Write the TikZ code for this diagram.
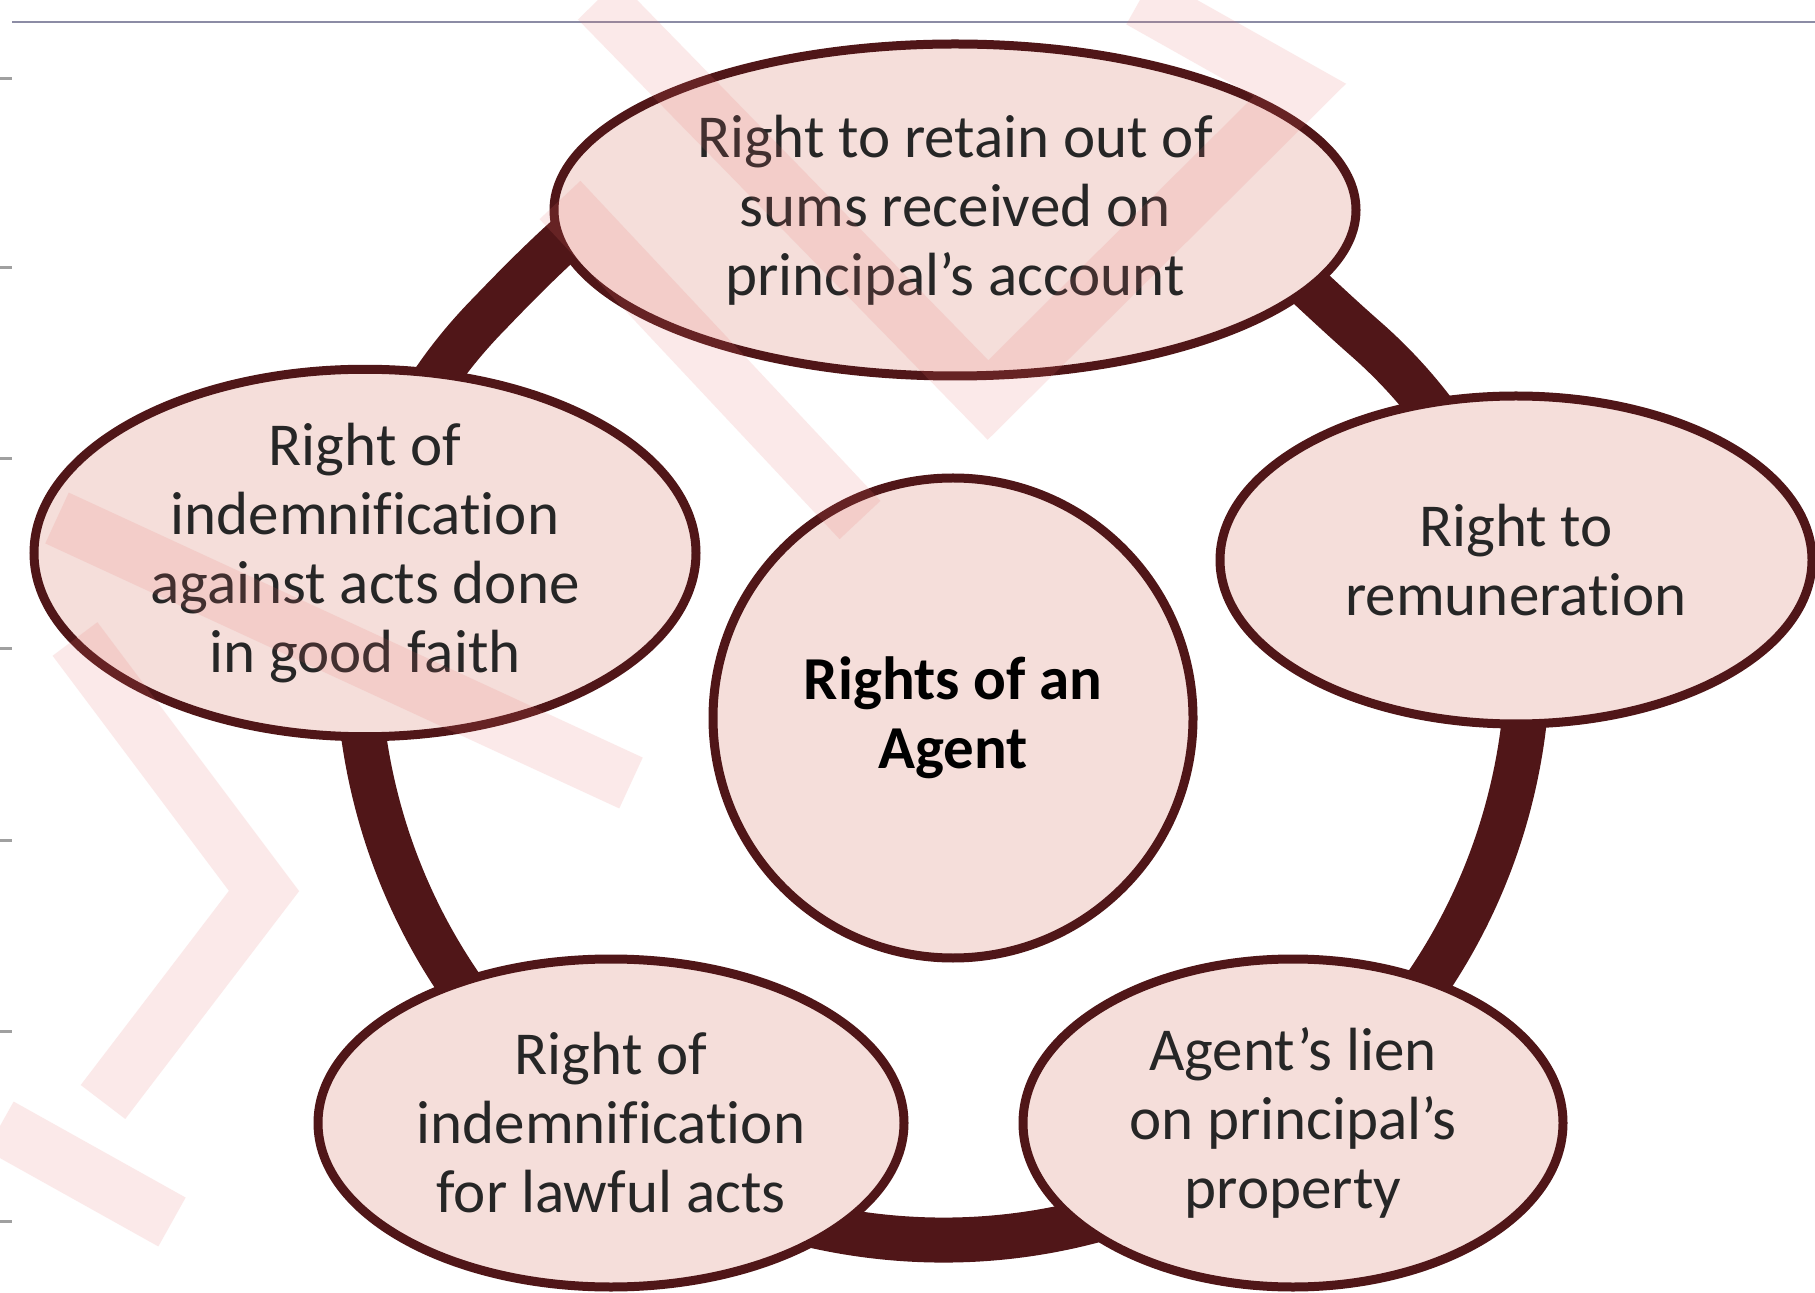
\documentclass[tikz,border=0pt]{standalone}
\usepackage{fontspec}
\setmainfont{Carlito}[Ligatures={NoCommon}]
\usetikzlibrary{shapes.geometric}
\definecolor{ringc}{RGB}{80,22,24}
\definecolor{fillc}{RGB}{245,222,218}
\definecolor{txtc}{RGB}{38,38,38}
\definecolor{wmc}{RGB}{232,110,110}
\definecolor{topl}{RGB}{140,140,165}
\definecolor{tickc}{RGB}{160,160,160}
\begin{document}
\begin{tikzpicture}[x=0.5pt,y=-0.5pt,
  bub/.style={ellipse, draw=ringc, line width=4.5pt, fill=fillc, inner sep=0pt,
    align=center, text=txtc, font=\fontsize{30.5}{34.5}\selectfont},
  hub/.style={bub, circle, text=black, font=\bfseries\fontsize{30.5}{34.5}\selectfont},
  ringline/.style={draw=ringc, line width=22.5pt, line join=round},
  wm/.style={draw=wmc, line width=28pt, opacity=0.15, line join=miter},
  tickmark/.style={draw=tickc, line width=1.5pt},
  topline/.style={draw=topl, line width=1.2pt}]
\useasboundingbox (0,0) rectangle (1815,1293);
\fill[white] (0,0) rectangle (1815,1293);
% frame marks
\draw[topline] (12,22) -- (1815,22);
\foreach \yy in {79,268,459,649,840,1031,1221}
  \draw[tickmark] (0,\yy) -- (12,\yy);
% ring
\draw[ringline] (1522.7,733.4) arc[start angle=7.7, end angle=170.7, radius=585]
  .. controls (340,592) and (365,440) .. (490,313)
  .. controls (628,169) and (716,105) .. (946,105)
  .. controls (1146,105) and (1239,228) .. (1367,340)
  .. controls (1479,439) and (1543,584) .. (1522.7,733.4) -- cycle;
% nodes
\node[bub, minimum width=401pt, minimum height=166pt] (top) at (955,210)
  {Right to retain out of\\sums received on\\principal's account};
\node[bub, minimum width=331pt, minimum height=165pt] (left) at (365,553)
  {Right of\\indemnification\\against acts done\\in good faith};
\node[bub, minimum width=296pt, minimum height=164pt] (right) at (1516,560)
  {Right to\\remuneration};
\node[hub, minimum size=240pt] (hub) at (953,718)
  {Rights of an\\Agent};
\node[bub, minimum width=293pt, minimum height=164pt] (bl) at (611,1123)
  {Right of\\indemnification\\for lawful acts};
\node[bub, minimum width=270pt, minimum height=164pt] (br) at (1293,1123)
  {Agent's lien\\on principal's\\property};
% watermark
\draw[wm] (598,0) -- (988,400) -- (1300,90) -- (1140,0);
\draw[wm] (560,200) -- (860,520);
\draw[wm] (57,518) -- (631,783);
\draw[wm] (75,639) -- (264,891) -- (103,1102);
\draw[wm] (0,1126) -- (172,1222);
\end{tikzpicture}
\end{document}
